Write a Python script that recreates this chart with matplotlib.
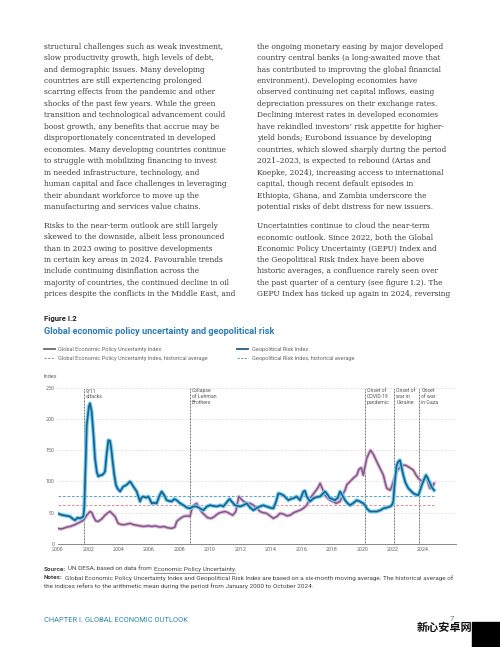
import matplotlib
matplotlib.use("Agg")
import matplotlib.pyplot as plt
from matplotlib.lines import Line2D
from matplotlib.patches import Rectangle
import numpy as np

W, H = 500, 647

# ---------------- data ----------------
gpr_years = [2000.0, 2000.2, 2000.37, 2000.6, 2000.81, 2001.0, 2001.14, 2001.3, 2001.47, 2001.69, 2001.75,
             2001.91, 2002.05, 2002.12, 2002.23, 2002.35, 2002.45, 2002.57, 2002.67, 2002.8, 2002.89, 2003.0,
             2003.11, 2003.22, 2003.33, 2003.44, 2003.53, 2003.61, 2003.72, 2003.83, 2003.95, 2004.10, 2004.2,
             2004.31, 2004.5, 2004.75, 2004.87, 2004.97, 2005.19, 2005.3, 2005.41, 2005.5, 2005.63, 2005.8,
             2005.96, 2006.18, 2006.35, 2006.5, 2006.7, 2006.83, 2007.0, 2007.16, 2007.3, 2007.49, 2007.65,
             2007.82, 2008.0, 2008.26, 2008.5, 2008.69, 2008.9, 2009.13, 2009.35, 2009.57, 2009.8, 2010.01,
             2010.2, 2010.45, 2010.7, 2010.88, 2011.05, 2011.21, 2011.3, 2011.43, 2011.65, 2011.98, 2012.2,
             2012.42, 2012.65, 2012.86, 2013.1, 2013.29, 2013.5, 2013.73, 2013.95, 2014.17, 2014.35, 2014.5,
             2014.65, 2014.83, 2015.0, 2015.16, 2015.3, 2015.48, 2015.7, 2015.92, 2016.05, 2016.14, 2016.25,
             2016.36, 2016.58, 2016.8, 2017.0, 2017.24, 2017.4, 2017.56, 2017.7, 2017.89, 2018.05, 2018.22,
             2018.4, 2018.55, 2018.7, 2018.88, 2019.05, 2019.21, 2019.45, 2019.65, 2019.85, 2020.08, 2020.2,
             2020.30, 2020.52, 2020.75, 2020.96, 2021.2, 2021.40, 2021.6, 2021.84, 2021.95, 2022.05, 2022.15,
             2022.27, 2022.38, 2022.49, 2022.6, 2022.71, 2022.85, 2023.04, 2023.2, 2023.37, 2023.55, 2023.70,
             2023.8, 2023.92, 2024.05, 2024.20, 2024.3, 2024.46, 2024.6, 2024.73]
gpr_values = [49, 47, 46, 45, 44, 40, 38, 42, 41, 44, 60,
              190, 220, 225, 212, 175, 137, 115, 108, 110, 110, 112,
              116, 145, 166, 165, 150, 132, 110, 94, 88, 84, 88,
              92, 94, 100, 96, 92, 84, 76, 68, 74, 76, 74,
              76, 65, 66, 65, 78, 84, 78, 70, 69, 68, 72,
              70, 66, 62, 58, 57, 60, 60, 57, 54, 60, 62,
              61, 60, 62, 60, 65, 70, 72, 68, 62, 60, 62,
              65, 58, 54, 58, 60, 62, 60, 58, 57, 68, 81,
              80, 78, 74, 70, 72, 73, 76, 70, 78, 84, 85,
              76, 68, 73, 75, 76, 80, 84, 80, 73, 72, 70,
              74, 84, 78, 70, 65, 62, 66, 70, 68, 65, 62,
              57, 52, 52, 52, 54, 57, 58, 60, 62, 68, 100,
              126, 132, 134, 122, 110, 98, 89, 85, 81, 79, 78,
              85, 94, 102, 110, 106, 97, 90, 86]

gepu_years = [2000.0, 2000.2, 2000.37, 2000.6, 2000.81, 2001.14, 2001.47, 2001.69, 2001.91, 2002.12, 2002.25,
              2002.34, 2002.5, 2002.67, 2002.89, 2003.11, 2003.3, 2003.44, 2003.6, 2003.77, 2003.97, 2004.2,
              2004.42, 2004.75, 2004.97, 2005.19, 2005.4, 2005.63, 2005.96, 2006.2, 2006.4, 2006.72, 2007.0,
              2007.2, 2007.5, 2007.7, 2007.82, 2008.0, 2008.26, 2008.5, 2008.69, 2008.8, 2008.95, 2009.13,
              2009.3, 2009.5, 2009.67, 2009.85, 2010.1, 2010.3, 2010.55, 2010.8, 2011.02, 2011.2, 2011.5,
              2011.7, 2011.9, 2012.05, 2012.22, 2012.45, 2012.65, 2012.86, 2013.1, 2013.29, 2013.5, 2013.73,
              2013.95, 2014.17, 2014.4, 2014.6, 2014.83, 2015.05, 2015.27, 2015.5, 2015.7, 2015.92, 2016.14,
              2016.36, 2016.58, 2016.8, 2016.92, 2017.1, 2017.24, 2017.4, 2017.56, 2017.75, 2017.89, 2018.1,
              2018.3, 2018.55, 2018.75, 2018.88, 2019.0, 2019.21, 2019.45, 2019.65, 2019.8, 2019.95, 2020.08,
              2020.2, 2020.30, 2020.45, 2020.56, 2020.75, 2020.96, 2021.2, 2021.4, 2021.55, 2021.63, 2021.84,
              2021.95, 2022.05, 2022.27, 2022.4, 2022.6, 2022.85, 2023.0, 2023.2, 2023.37, 2023.55, 2023.7,
              2023.92, 2024.1, 2024.2, 2024.35, 2024.46, 2024.6, 2024.73]
gepu_values = [25, 24, 25, 27, 28, 31, 35, 38, 46, 52, 50,
               44, 37, 36, 40, 46, 50, 52, 48, 44, 33, 31,
               31, 33, 31, 30, 29, 28, 29, 28, 29, 27, 28,
               26, 25, 27, 36, 40, 44, 45, 44, 55, 62, 65,
               57, 50, 46, 42, 41, 44, 49, 51, 52, 50, 46,
               52, 76, 72, 68, 65, 65, 62, 57, 52, 50, 49,
               45, 41, 44, 49, 48, 45, 46, 50, 52, 54, 57,
               62, 73, 80, 84, 90, 97, 88, 78, 73, 70, 68,
               65, 68, 80, 86, 95, 100, 106, 110, 120, 122, 110,
               125, 137, 145, 150, 143, 132, 120, 110, 95, 89, 86,
               92, 100, 116, 120, 126, 126, 124, 121, 118, 110, 105,
               100, 105, 110, 96, 89, 90, 97]

gpr_avg = 76
gepu_avg = 63

event_years = [2001.72, 2008.71, 2020.19, 2022.12, 2023.77]
event_labels = ["9/11\nattacks", "Collapse\nof Lehman\nBrothers", "Onset of\nCOVID-19\npandemic",
                "Onset of\nwar in\nUkraine", "Onset\nof war\nin Gaza"]

x_ticks = list(range(2000, 2025, 2))
y_ticks = [0, 50, 100, 150, 200, 250]

left_col = [
    ["structural challenges such as weak investment,",
     "slow productivity growth, high levels of debt,",
     "and demographic issues. Many developing",
     "countries are still experiencing prolonged",
     "scarring effects from the pandemic and other",
     "shocks of the past few years. While the green",
     "transition and technological advancement could",
     "boost growth, any benefits that accrue may be",
     "disproportionately concentrated in developed",
     "economies. Many developing countries continue",
     "to struggle with mobilizing financing to invest",
     "in needed infrastructure, technology, and",
     "human capital and face challenges in leveraging",
     "their abundant workforce to move up the",
     "manufacturing and services value chains."],
    ["Risks to the near-term outlook are still largely",
     "skewed to the downside, albeit less pronounced",
     "than in 2023 owing to positive developments",
     "in certain key areas in 2024. Favourable trends",
     "include continuing disinflation across the",
     "majority of countries, the continued decline in oil",
     "prices despite the conflicts in the Middle East, and"]]
right_col = [
    ["the ongoing monetary easing by major developed",
     "country central banks (a long-awaited move that",
     "has contributed to improving the global financial",
     "environment). Developing economies have",
     "observed continuing net capital inflows, easing",
     "depreciation pressures on their exchange rates.",
     "Declining interest rates in developed economies",
     "have rekindled investors\u2019 risk appetite for higher-",
     "yield bonds; Eurobond issuance by developing",
     "countries, which slowed sharply during the period",
     "2021\u20132023, is expected to rebound (Arias and",
     "Koepke, 2024), increasing access to international",
     "capital, though recent default episodes in",
     "Ethiopia, Ghana, and Zambia underscore the",
     "potential risks of debt distress for new issuers."],
    ["Uncertainties continue to cloud the near-term",
     "economic outlook. Since 2022, both the Global",
     "Economic Policy Uncertainty (GEPU) Index and",
     "the Geopolitical Risk Index have been above",
     "historic averages, a confluence rarely seen over",
     "the past quarter of a century (see figure I.2). The",
     "GEPU Index has ticked up again in 2024, reversing"]]

# ---------------- figure ----------------
fig = plt.figure(figsize=(W / 100, H / 100), dpi=100)
fig.patch.set_facecolor("white")


def fx(x):
    return x / W


def fy(y):
    return 1 - y / H


body_kw = dict(family="DejaVu Serif", color="#3a3a3a", va="center", ha="left")
body_size = 5.45
line_gap = 11.45
para_starts = [46.7, 225.7]
for col_x, col in [(44, left_col), (257.3, right_col)]:
    for p_start, para in zip(para_starts, col):
        for i, line in enumerate(para):
            fig.text(fx(col_x), fy(p_start + i * line_gap), line, fontsize=body_size, **body_kw)

# Figure label and title
fig.text(fx(44), fy(319), "Figure I.2", fontsize=5.6, fontweight="bold", family="Roboto",
         color="#222222", va="center")
fig.text(fx(44), fy(331), "Global economic policy uncertainty and geopolitical risk", fontsize=6.55,
         fontweight="bold", family="Roboto", color="#2b7bb5", va="center")

# Legend
gepu_color = "#7a5a8c"
gepu_halo = "#e3b8d6"
gpr_color = "#1f5d8c"
gpr_halo = "#6fd0ee"
gpr_avg_color = "#5fa8cc"
gepu_avg_color = "#d8979a"
leg_fs = 4.1
leg_kw = dict(family="Roboto", color="#666666", va="center", fontsize=leg_fs)
legend_items = [
    (44, 349, "#6b6b6b", "-", "Global Economic Policy Uncertainty Index"),
    (44, 358.3, "#9a9a9a", (0, (2, 1.2)), "Global Economic Policy Uncertainty Index, historical average"),
    (237, 349, gpr_color, "-", "Geopolitical Risk Index"),
    (237, 358.3, gpr_avg_color, (0, (2, 1.2)), "Geopolitical Risk Index, historical average"),
]
for lx, ly, c, ls, lab in legend_items:
    fig.add_artist(Line2D([fx(lx), fx(lx + 11)], [fy(ly), fy(ly)], color=c,
                          lw=1.3 if ls == "-" else 0.8, linestyle=ls, transform=fig.transFigure))
    fig.text(fx(lx + 14.5), fy(ly), lab, **leg_kw)

fig.text(fx(44), fy(377), "Index", **leg_kw)

# Axes
x_left, x_right = 57.7, 456
y_bot, y_top = 544, 387.7
ax = fig.add_axes([fx(x_left), fy(y_bot), (x_right - x_left) / W, (y_bot - y_top) / H])
ax.set_xlim(2000, 2026.17)
ax.set_ylim(0, 250)
ax.set_facecolor("none")
for s in ["top", "right", "left"]:
    ax.spines[s].set_visible(False)
ax.spines["bottom"].set_color("#888888")
ax.spines["bottom"].set_linewidth(0.7)
ax.set_xticks(x_ticks)
ax.set_xticklabels([str(t) for t in x_ticks])
ax.set_yticks(y_ticks)
ax.tick_params(axis="both", length=0, labelsize=3.9, labelcolor="#666666", pad=2.5)
for lbl in ax.get_xticklabels() + ax.get_yticklabels():
    lbl.set_family("Roboto")
for yv in y_ticks[1:]:
    ax.axhline(yv, color="#c8c8c8", lw=0.6, linestyle=(0, (1, 2)), zorder=0)

# event lines
for ex, el in zip(event_years, event_labels):
    ax.plot([ex, ex], [0, 250], color="#444444", lw=0.6, linestyle=(0, (1, 0.8)), zorder=1)
    ax.text(ex + 0.12, 249, el, fontsize=3.7, family="Roboto", color="#555555",
            va="top", ha="left", linespacing=1.15)

# averages
ax.plot([2000, 2024.75], [gpr_avg, gpr_avg], color=gpr_avg_color, lw=0.8, linestyle=(0, (2.5, 1.5)), zorder=2)
ax.plot([2000, 2024.75], [gepu_avg, gepu_avg], color=gepu_avg_color, lw=0.8, linestyle=(0, (2.5, 1.5)), zorder=2)

# series with halo
ax.plot(gepu_years, gepu_values, color=gepu_halo, lw=2.6, solid_joinstyle="round", zorder=3)
ax.plot(gepu_years, gepu_values, color=gepu_color, lw=1.1, solid_joinstyle="round", zorder=4)
ax.plot(gpr_years, gpr_values, color=gpr_halo, lw=2.8, solid_joinstyle="round", zorder=5)
ax.plot(gpr_years, gpr_values, color=gpr_color, lw=1.2, solid_joinstyle="round", zorder=6)

# Source / notes
note_fs = 4.6
nkw = dict(family="Roboto", color="#444444", va="center", fontsize=note_fs)
t1 = fig.text(fx(44), fy(569.3), "Source:", fontweight="bold", **nkw)
fig.canvas.draw()
r = fig.canvas.get_renderer()
bb = t1.get_window_extent(r)
t2 = fig.text(bb.x1 / W + 0.004, fy(569.3), "UN DESA, based on data from ", **nkw)
bb2 = t2.get_window_extent(r)
t3 = fig.text(bb2.x1 / W, fy(569.3), "Economic Policy Uncertainty", **nkw)
bb3 = t3.get_window_extent(r)
fig.add_artist(Line2D([bb3.x0 / W, bb3.x1 / W], [fy(572.5), fy(572.5)], color="#444444", lw=0.4,
                      transform=fig.transFigure))
fig.text(bb3.x1 / W, fy(569.3), ".", **nkw)
n1 = fig.text(fx(44), fy(577.7), "Notes:", fontweight="bold", **nkw)
bbn = n1.get_window_extent(r)
fig.text(bbn.x1 / W + 0.004, fy(577.7),
         "Global Economic Policy Uncertainty Index and Geopolitical Risk Index are based on a six-month "
         "moving average. The historical average of", **nkw)
fig.text(fx(44), fy(586), "the indices refers to the arithmetic mean during the period from January 2000 "
         "to October 2024.", **nkw)

# footer
fig.text(fx(44), fy(620.7), "CHAPTER I. GLOBAL ECONOMIC OUTLOOK", family="Roboto", fontsize=5.4,
         color="#2b86a8", va="center")
fig.text(fx(452), fy(619), "7", family="Roboto", fontsize=5.5, color="#2b86a8", va="center", ha="center")

# watermark-like bottom right
fig.text(fx(445), fy(627), "新心安卓网", family=["Noto Sans CJK SC", "DejaVu Sans"], fontsize=8,
         fontweight="bold", color="#111111", va="center", ha="center")
fig.add_artist(Rectangle((fx(472), 0), 28 / W, 25 / H, transform=fig.transFigure,
                         color="black", zorder=10))

fig.savefig("out.png", dpi=100, facecolor="white")
